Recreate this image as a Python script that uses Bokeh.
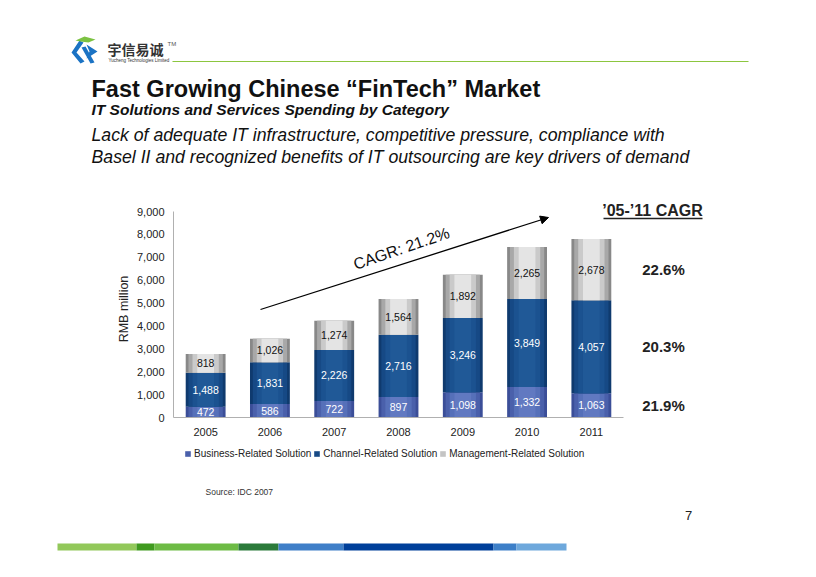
from bokeh.plotting import figure
from bokeh.models import (Range1d, FixedTicker, NumeralTickFormatter,
                          Arrow, NormalHead, Legend, LegendItem, Label)
from bokeh.embed import file_html
from bokeh.resources import INLINE
from bokeh.core.properties import value
import numpy as np

# ---------------- data ----------------
years = ["2005", "2006", "2007", "2008", "2009", "2010", "2011"]
business = [472, 586, 722, 897, 1098, 1332, 1063]
channel = [1488, 1831, 2226, 2716, 3246, 3849, 4057]
management = [818, 1026, 1274, 1564, 1892, 2265, 2678]
series_names = ["Business-Related Solution", "Channel-Related Solution", "Management-Related Solution"]
cagr_by_series = ["21.9%", "20.3%", "22.6%"]  # business, channel, management ('05-'11)
y_ticks = [0, 1000, 2000, 3000, 4000, 5000, 6000, 7000, 8000, 9000]
overall_cagr = "CAGR: 21.2%"

FONT = "Liberation Sans"
W, H = 816, 577
# chart plotting area on the page (pixels from left / top)
FL, FR, FT, FB = 173, 623, 211, 417
HEAD_H = 200
MID_TOP, MID_BOT = 200, 442
YMAX = 9000
px_per_val = (FB - FT) / YMAX
px_per_cat = (FR - FL) / len(years)


def canvas_fig(w, h, y_top=0):
    f = figure(width=w, height=h, x_range=Range1d(0, w), y_range=Range1d(y_top + h, y_top),
               x_axis_type=None, y_axis_type=None, output_backend="svg", toolbar_location=None,
               min_border=0, min_border_left=0, min_border_right=0, min_border_top=0, min_border_bottom=0)
    f.outline_line_color = None
    f.grid.grid_line_color = None
    f.background_fill_color = "white"
    f.border_fill_color = "white"
    return f


def txt(f, X, Y, text, size, style="normal", color="#111111", align="left", font=FONT, **kw):
    f.text(x=[X], y=[Y], text=[text], text_align=align, text_baseline="middle",
           text_font=value(font), text_font_size=size, text_font_style=style,
           text_color=color, **kw)


# ---------------- header ----------------
head = canvas_fig(W, HEAD_H, 0)
head.patch([79, 71, 80, 84, 76, 83], [40, 52, 63, 61, 52, 42], fill_color="#1b73c4", line_color=None)
head.patch([86, 97, 86, 89], [44, 51, 58, 51], fill_color="#1b73c4", line_color=None)
head.patch([81, 85, 94, 90], [47, 46, 62, 63], fill_color="#1b73c4", line_color=None)
head.patch([75, 84, 95, 88, 80], [40, 36, 39, 42, 41], fill_color="#7cc242", line_color=None)
txt(head, 107, 48, "宇信易诚", "14px", "bold", "#333333", font="Noto Sans CJK SC")
txt(head, 167, 43, "TM", "6px", color="#555555")
txt(head, 108, 59.5, "Yucheng Technologies Limited", "4.5px", color="#333333")
head.quad(left=[172], right=[748], top=[60.5], bottom=[61.5], fill_color="#8cc63f", line_color=None)
txt(head, 91, 88, "Fast Growing Chinese \u201cFinTech\u201d Market", "23.5px", "bold")
txt(head, 91, 109, "IT Solutions and Services Spending by Category", "15.5px", "bold italic")
txt(head, 91, 134, "Lack of adequate IT infrastructure, competitive pressure, compliance with", "17.7px", "italic")
txt(head, 91, 156, "Basel II and recognized benefits of IT outsourcing are key drivers of demand", "17.7px", "italic")

# ---------------- chart ----------------
x_pos = np.arange(len(years)) + 0.5
p = figure(width=W, height=MID_BOT - MID_TOP,
           x_range=Range1d(0, (W - FL) / px_per_cat),
           y_range=Range1d(0, YMAX + (FT - MID_TOP) / px_per_val),
           output_backend="svg", toolbar_location=None,
           min_border_left=FL, min_border_right=0, min_border_top=0, min_border_bottom=MID_BOT - FB)
p.extra_x_ranges = {"page": Range1d(FL, W)}
p.outline_line_color = None
p.xgrid.grid_line_color = None
p.ygrid.grid_line_color = None
p.background_fill_color = "white"
p.border_fill_color = "white"

p.yaxis.ticker = FixedTicker(ticks=y_ticks)
p.yaxis.formatter = NumeralTickFormatter(format="0,0")
p.yaxis.bounds = (0, YMAX)
p.xaxis.ticker = FixedTicker(ticks=list(x_pos))
p.xaxis.major_label_overrides = {float(x): y for x, y in zip(x_pos, years)}
p.xaxis.bounds = (0, len(years))
p.yaxis.axis_label = "RMB million"
p.yaxis.axis_label_text_font = FONT
p.yaxis.axis_label_text_font_style = "normal"
p.yaxis.axis_label_text_font_size = "12.5px"
p.yaxis.axis_label_text_color = "#222222"
p.yaxis.axis_label_standoff = 3
for ax in (p.xaxis[0], p.yaxis[0]):
    ax.major_tick_line_color = None
    ax.minor_tick_line_color = None
    ax.major_tick_out = 0
    ax.major_tick_in = 0
    ax.axis_line_color = "#b0b0b0"
    ax.axis_line_width = 1
    ax.major_label_text_font = FONT
    ax.major_label_text_font_size = "11px"
    ax.major_label_text_color = "#222222"
p.yaxis.major_label_standoff = 9
p.xaxis.major_label_standoff = 10

b0 = np.zeros(len(years))
b1 = b0 + np.array(business)
b2 = b1 + np.array(channel)
b3 = b2 + np.array(management)

BW = 0.62
factors = [1.0, 0.86, 0.66, 0.42]
palettes = [
    ["#3b4e98", "#4a60ab", "#5670b9", "#6179c1"],
    ["#0f3a6e", "#164985", "#1b5290", "#205997"],
    ["#888888", "#a8a8a8", "#cacaca", "#e4e4e4"],
]
bounds = [(b0, b1), (b1, b2), (b2, b3)]
for (bot, top), pal in zip(bounds, palettes):
    for fct, c in zip(factors, pal):
        p.vbar(x=list(x_pos), bottom=list(bot), top=list(top), width=BW * fct,
               fill_color=c, line_color=None)

label_colors = ["white", "white", "#111111"]
for (bot, top), vals, col in zip(bounds, [business, channel, management], label_colors):
    mids = list((bot + top) / 2)
    p.text(x=list(x_pos), y=mids, text=[f"{v:,}" for v in vals], text_align="center",
           text_baseline="middle", text_font=value(FONT), text_font_size="10.5px",
           text_color=col)

# overall CAGR arrow (screen units relative to the plotting area)
p.add_layout(Arrow(x_start=260 - FL, y_start=FB - 309, x_end=548 - FL, y_end=FB - 217,
                   start_units="screen", end_units="screen", line_color="black", line_width=1.3,
                   end=NormalHead(size=8, fill_color="black", line_color="black")))
p.add_layout(Label(x=401 - FL, y=FB - 248, x_units="screen", y_units="screen", text=overall_cagr,
                   angle=0.33, text_align="center", text_baseline="middle", text_font=FONT,
                   text_font_size="16px", text_color="#111111"))

# right column ('05-'11 CAGR), x in page pixels via the "page" range
txt(p, 652, YMAX + (FT - 210) / px_per_val, "\u201905-\u201911 CAGR", "16px", "bold", "#222222",
    align="center", x_range_name="page")
ul_y = YMAX + (FT - 218) / px_per_val
p.quad(left=[603], right=[702], top=[ul_y + 0.75 / px_per_val], bottom=[ul_y - 0.75 / px_per_val],
       fill_color="#222222", line_color=None, x_range_name="page")
for (bot, top), t in zip(bounds, cagr_by_series):
    txt(p, 663, (bot[-1] + top[-1]) / 2, t, "15px", "bold", "#222222", align="center",
        x_range_name="page")

# ---------------- footer ----------------
foot = canvas_fig(W, H - MID_BOT, MID_BOT)
swatches = ["#4a60ab", "#164985", "#c4c4c4"]
leg_renderers = [foot.quad(left=[-30], right=[-20], top=[MID_BOT + 1], bottom=[MID_BOT + 5],
                           fill_color=c, line_color=None) for c in swatches]
legend = Legend(items=[LegendItem(label=n, renderers=[r]) for n, r in zip(series_names, leg_renderers)],
                orientation="horizontal", location=(184, (H - MID_BOT) - (459 - MID_BOT)),
                label_text_font=FONT, label_text_font_size="10px", label_text_color="#222222",
                glyph_width=7, glyph_height=7, label_standoff=3, spacing=2, padding=0, margin=0,
                label_height=10, border_line_color=None, background_fill_alpha=0)
foot.add_layout(legend)
txt(foot, 205, 491, "Source: IDC 2007", "8.5px", color="#333333")
txt(foot, 688, 515, "7", "13px", color="#222222", align="center")
stripes = [(57, 136, "#92c85a"), (136, 154, "#3f9a1f"), (154, 238, "#6dbb45"), (238, 278, "#2b7a3a"),
           (278, 343, "#3f7fc8"), (343, 493, "#003f9a"), (493, 516, "#3d7fc8"), (516, 566, "#6ea8dc")]
foot.quad(left=[s[0] for s in stripes], right=[s[1] for s in stripes],
          top=[543] * len(stripes), bottom=[550] * len(stripes),
          fill_color=[s[2] for s in stripes], line_color=None)

# three independent roots stacked in page order (no frame alignment between them)
open("out.html", "w").write(file_html([head, p, foot], INLINE))
